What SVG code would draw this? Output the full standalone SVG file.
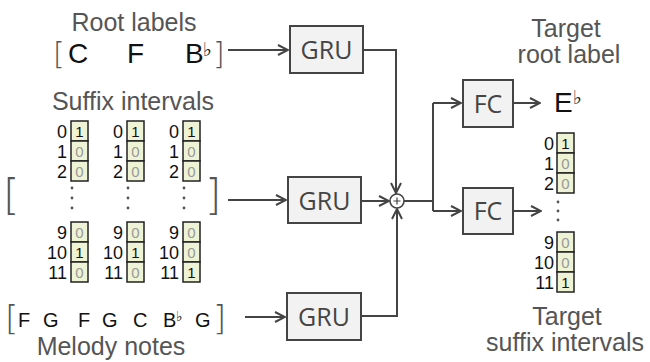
<svg xmlns="http://www.w3.org/2000/svg" width="650" height="362" viewBox="0 0 650 362">
<defs>
<marker id="ah" viewBox="0 0 12 12" refX="11" refY="6" markerWidth="12" markerHeight="12" markerUnits="userSpaceOnUse" orient="auto">
<path d="M1,1 L11,6 L1,11" fill="none" stroke="#444" stroke-width="2"/>
</marker>
<style>
.lbl{font-family:"Liberation Sans",Arial,sans-serif;font-size:25px;fill:#555;text-anchor:middle}
.brk{font-family:"DejaVu Sans","Liberation Sans",sans-serif;font-weight:200;fill:#555}
.note{font-family:"Liberation Sans",Arial,sans-serif;fill:#111}
.flat{font-family:"DejaVu Sans",sans-serif;fill:#111}
.box{fill:#f2f2f2;stroke:#444;stroke-width:2}
.bt{font-family:"Open Sans",sans-serif;font-size:25px;fill:#444;text-anchor:middle}
.cell{fill:#eef3d6;stroke:#222;stroke-width:1.5}
.idx{font-family:"Liberation Sans",Arial,sans-serif;font-size:18px;fill:#111;text-anchor:end}
.one{font-family:"Liberation Sans",Arial,sans-serif;font-size:15px;fill:#111;text-anchor:middle}
.zero{font-family:"Liberation Sans",Arial,sans-serif;font-size:15px;fill:#999;text-anchor:middle}
.dot{fill:#555}
.ln{fill:none;stroke:#444;stroke-width:2}
</style>
</defs>

<g id="root-labels">
<text class="lbl" x="134" y="31">Root labels</text>
<text class="brk" x="53" y="64" font-size="30">[</text>
<text class="note" x="68" y="63" font-size="28">C</text>
<text class="note" x="127" y="63" font-size="28">F</text>
<text class="note" x="185" y="63" font-size="28">B</text>
<text class="flat" x="203" y="56" font-size="19">♭</text>
<text class="brk" x="213" y="64" font-size="30">]</text>
</g>

<g id="suffix-intervals">
<text class="lbl" x="133" y="110">Suffix intervals</text>
<text class="brk" x="3" y="210" font-size="42">[</text>
<text class="brk" x="205" y="210" font-size="42">]</text>
<g id="col1">
<text class="idx" x="67" y="138">0</text><text class="idx" x="67" y="158">1</text><text class="idx" x="67" y="178">2</text>
<rect class="cell" x="71" y="121" width="17" height="20"/><rect class="cell" x="71" y="141" width="17" height="20"/><rect class="cell" x="71" y="161" width="17" height="20"/>
<text class="one" x="79.5" y="137">1</text><text class="zero" x="79.5" y="157">0</text><text class="zero" x="79.5" y="177">0</text>
<circle class="dot" cx="72" cy="188" r="1.4"/><circle class="dot" cx="72" cy="198" r="1.4"/><circle class="dot" cx="72" cy="208" r="1.4"/>
<text class="idx" x="67" y="239">9</text><text class="idx" x="67" y="259">10</text><text class="idx" x="67" y="279">11</text>
<rect class="cell" x="71" y="222" width="17" height="20"/><rect class="cell" x="71" y="242" width="17" height="20"/><rect class="cell" x="71" y="262" width="17" height="20"/>
<text class="zero" x="79.5" y="238">0</text><text class="one" x="79.5" y="258">1</text><text class="zero" x="79.5" y="278">0</text>
</g>
<g id="col2">
<text class="idx" x="123" y="138">0</text><text class="idx" x="123" y="158">1</text><text class="idx" x="123" y="178">2</text>
<rect class="cell" x="127" y="121" width="17" height="20"/><rect class="cell" x="127" y="141" width="17" height="20"/><rect class="cell" x="127" y="161" width="17" height="20"/>
<text class="one" x="135.5" y="137">1</text><text class="zero" x="135.5" y="157">0</text><text class="zero" x="135.5" y="177">0</text>
<circle class="dot" cx="128" cy="188" r="1.4"/><circle class="dot" cx="128" cy="198" r="1.4"/><circle class="dot" cx="128" cy="208" r="1.4"/>
<text class="idx" x="123" y="239">9</text><text class="idx" x="123" y="259">10</text><text class="idx" x="123" y="279">11</text>
<rect class="cell" x="127" y="222" width="17" height="20"/><rect class="cell" x="127" y="242" width="17" height="20"/><rect class="cell" x="127" y="262" width="17" height="20"/>
<text class="zero" x="135.5" y="238">0</text><text class="one" x="135.5" y="258">1</text><text class="zero" x="135.5" y="278">0</text>
</g>
<g id="col3">
<text class="idx" x="179" y="138">0</text><text class="idx" x="179" y="158">1</text><text class="idx" x="179" y="178">2</text>
<rect class="cell" x="183" y="121" width="17" height="20"/><rect class="cell" x="183" y="141" width="17" height="20"/><rect class="cell" x="183" y="161" width="17" height="20"/>
<text class="one" x="191.5" y="137">1</text><text class="zero" x="191.5" y="157">0</text><text class="zero" x="191.5" y="177">0</text>
<circle class="dot" cx="184" cy="188" r="1.4"/><circle class="dot" cx="184" cy="198" r="1.4"/><circle class="dot" cx="184" cy="208" r="1.4"/>
<text class="idx" x="179" y="239">9</text><text class="idx" x="179" y="259">10</text><text class="idx" x="179" y="279">11</text>
<rect class="cell" x="183" y="222" width="17" height="20"/><rect class="cell" x="183" y="242" width="17" height="20"/><rect class="cell" x="183" y="262" width="17" height="20"/>
<text class="zero" x="191.5" y="238">0</text><text class="zero" x="191.5" y="258">0</text><text class="one" x="191.5" y="278">1</text>
</g>
</g>

<g id="melody-notes">
<text class="brk" x="5" y="330" font-size="34">[</text>
<text class="note" x="18" y="327" font-size="20">F</text>
<text class="note" x="43" y="327" font-size="20">G</text>
<text class="note" x="78" y="327" font-size="20">F</text>
<text class="note" x="102" y="327" font-size="20">G</text>
<text class="note" x="133" y="327" font-size="20">C</text>
<text class="note" x="163" y="327" font-size="20">B</text>
<text class="flat" x="176" y="321" font-size="14">♭</text>
<text class="note" x="195" y="327" font-size="20">G</text>
<text class="brk" x="213" y="330" font-size="34">]</text>
<text class="lbl" x="111" y="355">Melody notes</text>
</g>

<g id="gru1"><rect class="box" x="290" y="26" width="73" height="47"/><text class="bt" x="326.5" y="59">GRU</text></g>
<g id="gru2"><rect class="box" x="288" y="177" width="73" height="46"/><text class="bt" x="324.5" y="209.5">GRU</text></g>
<g id="gru3"><rect class="box" x="287" y="293" width="74" height="47"/><text class="bt" x="324" y="326">GRU</text></g>

<g id="sum">
<circle cx="397" cy="201" r="7" fill="#fff" stroke="#444" stroke-width="1.6"/>
<path d="M393.5,201 H400.5 M397,197.5 V204.5" stroke="#444" stroke-width="1.2"/>
</g>

<g id="fc1"><rect class="box" x="463" y="80" width="50" height="47"/><text class="bt" x="488" y="112.5">FC</text></g>
<g id="fc2"><rect class="box" x="463" y="188" width="50" height="46"/><text class="bt" x="488" y="220">FC</text></g>

<g id="target-root">
<text class="lbl" x="566" y="37">Target</text>
<text class="lbl" x="569" y="63">root label</text>
<text class="note" x="554" y="112" font-size="28">E</text>
<text class="flat" x="573" y="104" font-size="19">♭</text>
</g>

<g id="target-suffix">
<text class="idx" x="554" y="150">0</text><text class="idx" x="554" y="170">1</text><text class="idx" x="554" y="190">2</text>
<rect class="cell" x="557" y="133" width="17" height="20"/><rect class="cell" x="557" y="153" width="17" height="20"/><rect class="cell" x="557" y="173" width="17" height="20"/>
<text class="one" x="565.5" y="149">1</text><text class="zero" x="565.5" y="169">0</text><text class="zero" x="565.5" y="189">0</text>
<circle class="dot" cx="558" cy="202" r="1.4"/><circle class="dot" cx="558" cy="211" r="1.4"/><circle class="dot" cx="558" cy="220" r="1.4"/>
<text class="idx" x="554" y="249">9</text><text class="idx" x="554" y="269">10</text><text class="idx" x="554" y="289">11</text>
<rect class="cell" x="557" y="232" width="17" height="20"/><rect class="cell" x="557" y="252" width="17" height="20"/><rect class="cell" x="557" y="272" width="17" height="20"/>
<text class="zero" x="565.5" y="248">0</text><text class="zero" x="565.5" y="268">0</text><text class="one" x="565.5" y="288">1</text>
<text class="lbl" x="567" y="325">Target</text>
<text class="lbl" x="565" y="351">suffix intervals</text>
</g>

<g id="connectors">
<path class="ln" d="M228,50 H288" marker-end="url(#ah)"/>
<path class="ln" d="M228,200 H286" marker-end="url(#ah)"/>
<path class="ln" d="M245,317 H285" marker-end="url(#ah)"/>
<path class="ln" d="M363,50 H396 V193" marker-end="url(#ah)"/>
<path class="ln" d="M361,201 H389" marker-end="url(#ah)"/>
<path class="ln" d="M361,316 H397 V209" marker-end="url(#ah)"/>
<path class="ln" d="M404,201 H433" stroke-width="2.6"/>
<path class="ln" d="M433,103 V211"/>
<path class="ln" d="M433,103 H461" marker-end="url(#ah)"/>
<path class="ln" d="M433,211 H461" marker-end="url(#ah)"/>
<path class="ln" d="M513,103 H540" marker-end="url(#ah)"/>
<path class="ln" d="M513,211 H541" marker-end="url(#ah)"/>
</g>
</svg>
